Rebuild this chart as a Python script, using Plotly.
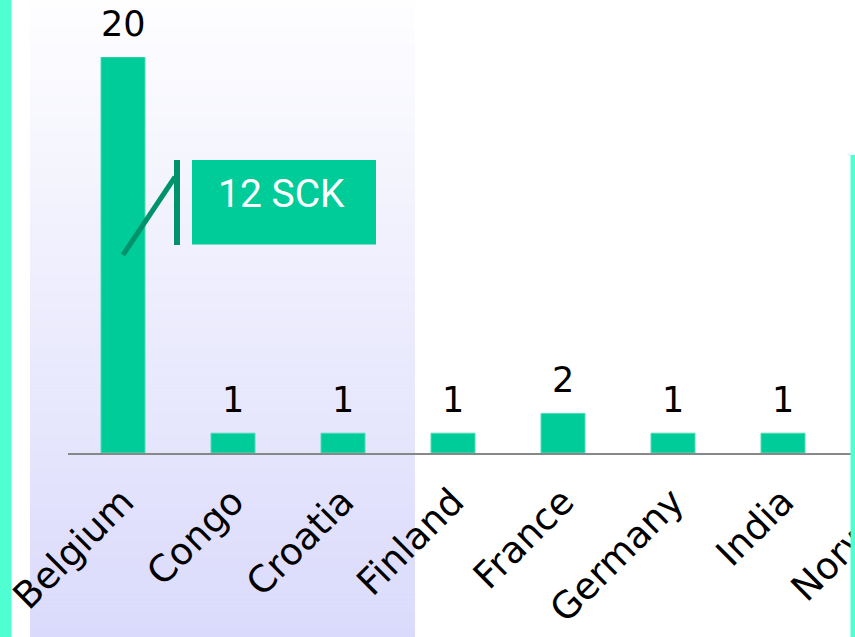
import plotly.graph_objects as go

# Categories and counts
countries = ["Belgium", "Congo", "Croatia", "Finland", "France", "Germany", "India", "Norway"]
counts = [20, 1, 1, 1, 2, 1, 1, 1]

# Callout attached to the Belgium bar
callout_country = "Belgium"
callout_value = 10
callout_text = "12 SCK"

BAR = "#00CC99"
DARK = "#00936b"
AQUA = "#4fffd2"

W, H = 960, 637
ML, MR, MT, MB = 68, 12, 57, 184
PW, PH = W - ML - MR, H - MT - MB


def px_x(p):
    return (p - ML) / PW


def px_y(p):
    return (H - MB - p) / PH


fig = go.Figure()
fig.add_trace(go.Bar(
    x=countries, y=counts, width=0.4,
    marker=dict(color=BAR, line=dict(color="#4fdcb6", width=1)),
    hoverinfo="x+y",
))

# value labels above the bars
for c, v in zip(countries, counts):
    fig.add_annotation(
        x=c, y=v, text=str(v), showarrow=False, yanchor="bottom", yshift=11,
        font=dict(family="DejaVu Sans", size=35, color="black"),
    )

shapes = []

# vertical gradient panel behind the left part of the chart
n = 160
top_c, bot_c = (254, 254, 255), (218, 218, 252)
for i in range(n):
    t = (i + 0.5) / n
    col = tuple(round(a + (b - a) * t) for a, b in zip(top_c, bot_c))
    y0 = H * i / n
    y1 = H * (i + 1) / n + 0.6
    shapes.append(dict(
        type="rect", xref="paper", yref="paper", layer="below",
        x0=px_x(30), x1=px_x(415), y0=px_y(y1), y1=px_y(y0),
        fillcolor="rgb(%d,%d,%d)" % col, line=dict(width=0),
    ))

# aqua stripes at the page edges
shapes.append(dict(type="rect", xref="paper", yref="paper", layer="below",
                   x0=px_x(0), x1=px_x(11.5), y0=px_y(H + 2), y1=px_y(-2),
                   fillcolor=AQUA, line=dict(width=0)))
shapes.append(dict(type="rect", xref="paper", yref="paper", layer="above",
                   x0=px_x(850.5), x1=px_x(870), y0=px_y(H + 2), y1=px_y(155),
                   fillcolor=AQUA, line=dict(width=0)))

# callout: leader line, bar, and label box, anchored on the data point
anchor = dict(xref="x", yref="y", xsizemode="pixel", ysizemode="pixel",
              xanchor=callout_country, yanchor=callout_value)
shapes.append(dict(type="rect", x0=69, x1=253, y0=10.5, y1=95,
                   fillcolor=BAR, line=dict(width=0), **anchor))
shapes.append(dict(type="line", x0=0, x1=52, y0=0, y1=78,
                   line=dict(color=DARK, width=5), **anchor))
shapes.append(dict(type="line", x0=54, x1=54, y0=10, y1=95,
                   line=dict(color=DARK, width=6), **anchor))

fig.add_annotation(
    x=callout_country, y=callout_value, text=callout_text, showarrow=False,
    xanchor="center", yanchor="middle", xshift=158, yshift=61,
    font=dict(family="Roboto", size=39, color="white"),
)

fig.update_layout(
    width=W, height=H,
    margin=dict(l=ML, r=MR, t=MT, b=MB, autoexpand=False),
    paper_bgcolor="white", plot_bgcolor="rgba(0,0,0,0)",
    shapes=shapes, showlegend=False, bargap=0.6,
    xaxis=dict(
        type="category", range=[-0.5, len(countries) - 0.5],
        showline=True, linecolor="#888888", linewidth=2,
        showgrid=False, zeroline=False,
        ticks="outside", ticklen=10, tickcolor="rgba(0,0,0,0)",
        tickangle=-45, tickfont=dict(family="DejaVu Sans", size=37, color="black"),
        automargin=False,
    ),
    yaxis=dict(range=[0, 20], visible=False, showgrid=False, zeroline=False),
)

fig.write_html(
    "out.html",
    post_script="document.documentElement.style.overflow='hidden';document.body.style.overflow='hidden';",
)
